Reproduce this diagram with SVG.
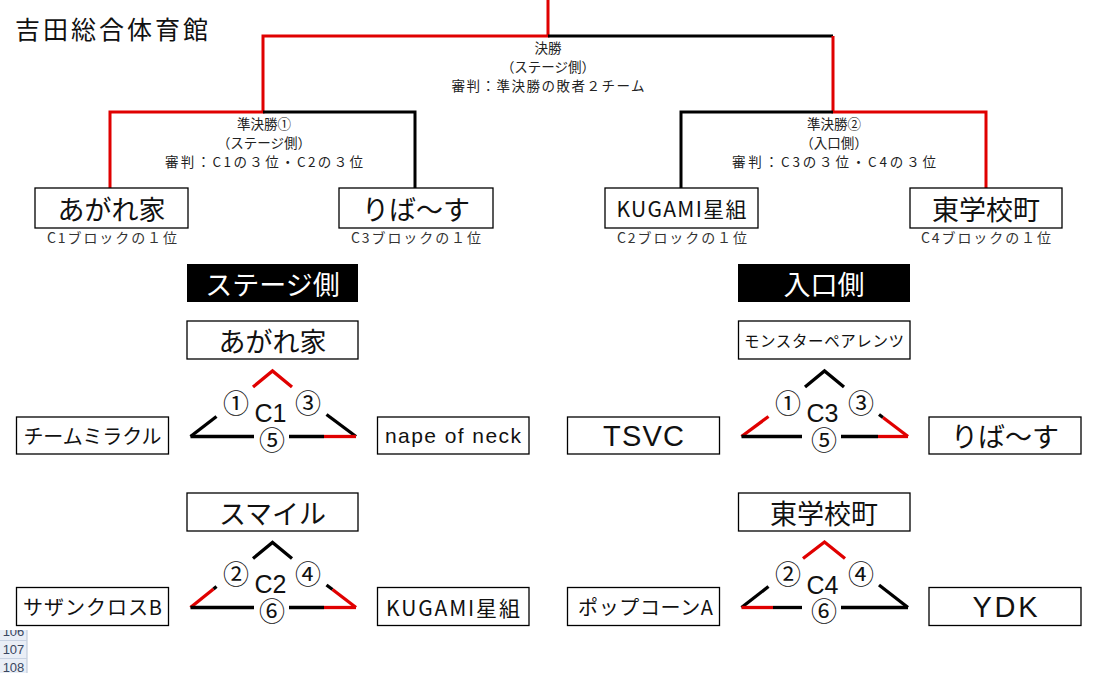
<svg xmlns="http://www.w3.org/2000/svg" width="1097" height="673" viewBox="0 0 1097 673">
<style>
text{font-family:"Noto Sans CJK JP","Liberation Sans",sans-serif;fill:#111;text-anchor:middle;dominant-baseline:central}
.lab{font-size:13.5px;fill:#222}
.sub{font-size:14px;fill:#333}
.big{font-size:27px}
.mid{font-size:20px}
.hdr{font-size:27px;fill:#fff}
.num{font-size:26px}
.grp{font-size:25px;font-family:"Liberation Sans","Noto Sans CJK JP",sans-serif}
.lat{font-family:"Liberation Sans","Noto Sans CJK JP",sans-serif}
.box{fill:#fff;stroke:#000;stroke-width:1.3}
.r{stroke:#e00000;stroke-width:3;fill:none}
.k{stroke:#000;stroke-width:3;fill:none}
.tr{stroke:#e00000;stroke-width:3.3;fill:none}
.tk{stroke:#000;stroke-width:3.3;fill:none}
.row{font-family:"Liberation Sans",sans-serif;font-size:13px;fill:#3a4660}
</style>
<defs><clipPath id="rc"><rect x="0" y="630" width="28" height="43"/></clipPath></defs>
<rect width="1097" height="673" fill="#fff"/>
<text x="15" y="28" style="text-anchor:start;font-size:25px" textLength="193">吉田総合体育館</text>

<g id="connectors">
<polyline class="r" points="548,0 548,36 263,36 263,112 110,112 110,188"/>
<polyline class="k" points="548,36 833,36"/>
<polyline class="r" points="833,36 833,112 986,112 986,188"/>
<polyline class="k" points="263,112 415,112 415,188"/>
<polyline class="k" points="833,112 681,112 681,188"/>
</g>

<g id="final-labels">
<text class="lab" x="548" y="47">決勝</text>
<text class="lab" x="548" y="66">（ステージ側）</text>
<text class="lab" x="548" y="85" textLength="193">審判：準決勝の敗者２チーム</text>
</g>
<g id="semi1-labels">
<text class="lab" x="264" y="123">準決勝①</text>
<text class="lab" x="264" y="142">（ステージ側）</text>
<text class="lab" x="264" y="161" textLength="198">審判：C1の３位・C2の３位</text>
</g>
<g id="semi2-labels">
<text class="lab" x="834" y="123">準決勝②</text>
<text class="lab" x="834" y="142">（入口側）</text>
<text class="lab" x="834" y="161" textLength="204">審判：C3の３位・C4の３位</text>
</g>

<g id="n-agare1"><rect class="box" x="35" y="188" width="153" height="40"/><text class="big" x="111.5" y="208">あがれ家</text><text class="sub" x="112" y="237" textLength="130">C1ブロックの１位</text></g>
<g id="n-ribasu1"><rect class="box" x="339" y="188" width="154" height="40"/><text class="big" x="416" y="208">りば～す</text><text class="sub" x="416" y="237" textLength="130">C3ブロックの１位</text></g>
<g id="n-kugami1"><rect class="box" x="605" y="188" width="153" height="40"/><text class="mid" x="681.5" y="208" style="font-size:21px" textLength="130">KUGAMI星組</text><text class="sub" x="682" y="237" textLength="130">C2ブロックの１位</text></g>
<g id="n-higashi1"><rect class="box" x="910" y="188" width="152" height="40"/><text class="big" x="986" y="208">東学校町</text><text class="sub" x="986" y="237" textLength="130">C4ブロックの１位</text></g>

<g id="h-stage"><rect x="187" y="264" width="171" height="38" fill="#000"/><text class="hdr" x="272.5" y="283">ステージ側</text></g>
<g id="h-entrance"><rect x="738" y="264" width="172" height="38" fill="#000"/><text class="hdr" x="824" y="283">入口側</text></g>

<g id="c1">
<rect class="box" x="187" y="321" width="171" height="38"/><text class="big" x="272.5" y="340">あがれ家</text>
<rect class="box" x="16.5" y="417" width="152" height="37"/><text class="mid" x="92.5" y="435.5" textLength="138">チームミラクル</text>
<rect class="box" x="377.5" y="417" width="151.5" height="37"/><text class="mid lat" x="453" y="435.5" style="font-size:21px" textLength="136">nape of neck</text>
<polyline class="tr" points="253,387 272.5,371 292,387"/>
<line class="tk" x1="216.5" y1="416.5" x2="190.5" y2="436.5"/>
<line class="tk" x1="326.5" y1="414.5" x2="356" y2="436.5"/>
<line class="tk" x1="190.5" y1="436.5" x2="254" y2="436.5"/>
<line class="tk" x1="289" y1="436.5" x2="324" y2="436.5"/>
<line class="tr" x1="324" y1="436.5" x2="356" y2="436.5"/>
<text class="num" x="236" y="401">①</text><text class="num" x="308" y="401">③</text>
<text class="grp" x="270.5" y="413">C1</text><text class="num" x="272" y="438">⑤</text>
</g>

<g id="c3">
<rect class="box" x="738.5" y="321" width="171.5" height="38"/><text x="824" y="340" style="font-size:15.5px" textLength="160">モンスターペアレンツ</text>
<rect class="box" x="567.5" y="417" width="152" height="37"/><text class="big lat" x="643.5" y="435.5" style="font-size:29px" textLength="81">TSVC</text>
<rect class="box" x="929" y="417" width="152" height="37"/><text class="big" x="1005" y="435.5">りば～す</text>
<polyline class="tk" points="805,387 824.5,371 844,387"/>
<line class="tr" x1="768.5" y1="416.5" x2="741.5" y2="436.5"/>
<line class="tk" x1="879" y1="414.5" x2="883" y2="417.5"/>
<line class="tr" x1="883" y1="417.5" x2="908" y2="436.5"/>
<line class="tk" x1="741.5" y1="436.5" x2="802" y2="436.5"/>
<line class="tk" x1="841" y1="436.5" x2="878" y2="436.5"/>
<line class="tr" x1="878" y1="436.5" x2="908" y2="436.5"/>
<text class="num" x="788" y="401">①</text><text class="num" x="861" y="401">③</text>
<text class="grp" x="822.5" y="413">C3</text><text class="num" x="824" y="438">⑤</text>
</g>

<g id="c2">
<rect class="box" x="187" y="493" width="171" height="38"/><text class="big" x="272.5" y="512">スマイル</text>
<rect class="box" x="16.5" y="587.5" width="152" height="38"/><text class="mid" x="92.5" y="606.5" textLength="139">サザンクロスB</text>
<rect class="box" x="377.5" y="587.5" width="151.5" height="38"/><text class="mid" x="453" y="606.5" style="font-size:21px" textLength="134">KUGAMI星組</text>
<polyline class="tk" points="253,558.5 272.5,542.5 292,558.5"/>
<line class="tk" x1="216.5" y1="586.5" x2="213.5" y2="589"/>
<line class="tr" x1="213.5" y1="589" x2="190.5" y2="607.5"/>
<line class="tk" x1="326.5" y1="585" x2="332.5" y2="589.5"/>
<line class="tr" x1="332.5" y1="589.5" x2="356" y2="607.5"/>
<line class="tk" x1="190.5" y1="607.5" x2="254" y2="607.5"/>
<line class="tk" x1="289" y1="607.5" x2="324" y2="607.5"/>
<line class="tr" x1="324" y1="607.5" x2="356" y2="607.5"/>
<text class="num" x="236" y="572">②</text><text class="num" x="308" y="572">④</text>
<text class="grp" x="270.5" y="584">C2</text><text class="num" x="272" y="609.5">⑥</text>
</g>

<g id="c4">
<rect class="box" x="738.5" y="493" width="171.5" height="38"/><text class="big" x="824" y="512">東学校町</text>
<rect class="box" x="567.5" y="587.5" width="152" height="38"/><text class="mid" x="645.5" y="606.5" textLength="135">ポップコーンA</text>
<rect class="box" x="929" y="587.5" width="152" height="38"/><text class="big lat" x="1005" y="606.5" style="font-size:29px" textLength="65">YDK</text>
<polyline class="tr" points="803,558.5 824.5,542 845,558.5"/>
<line class="tk" x1="768.5" y1="586.5" x2="741.5" y2="607.5"/>
<line class="tk" x1="879" y1="585" x2="908" y2="607.5"/>
<line class="tr" x1="741.5" y1="607.5" x2="773" y2="607.5"/>
<line class="tk" x1="773" y1="607.5" x2="802" y2="607.5"/>
<line class="tk" x1="841" y1="607.5" x2="908" y2="607.5"/>
<text class="num" x="788" y="572">②</text><text class="num" x="861" y="572">④</text>
<text class="grp" x="822.5" y="585">C4</text><text class="num" x="824" y="609.5">⑥</text>
</g>

<g id="row-headers" clip-path="url(#rc)">
<rect x="0" y="630" width="27" height="43" fill="#e9eef6"/>
<line x1="27" y1="630" x2="27" y2="673" stroke="#b8c4d6"/>
<line x1="0" y1="640.5" x2="27" y2="640.5" stroke="#c8d2e2"/>
<line x1="0" y1="658.5" x2="27" y2="658.5" stroke="#c8d2e2"/>
<text class="row" x="13.5" y="631">106</text>
<text class="row" x="13.5" y="649.5">107</text>
<text class="row" x="13.5" y="667.5">108</text>
</g>
</svg>
